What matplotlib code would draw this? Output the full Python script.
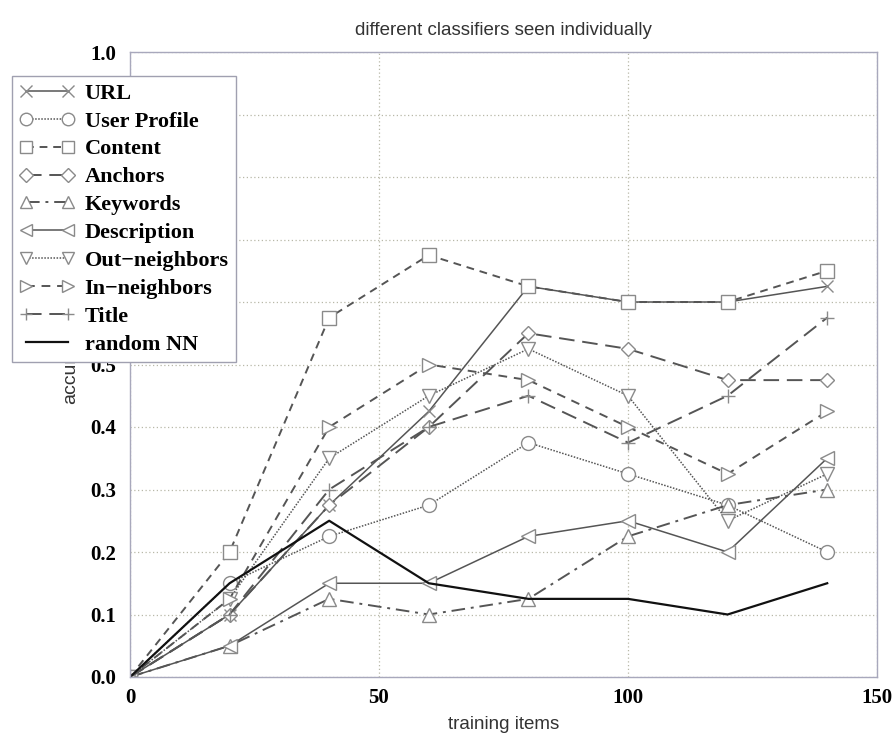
import matplotlib
matplotlib.use("Agg")
import matplotlib.pyplot as plt

x_items = [0, 20, 40, 60, 80, 100, 120, 140]

url = [0, 0.1, 0.275, 0.425, 0.625, 0.6, 0.6, 0.625]
user_profile = [0, 0.15, 0.225, 0.275, 0.375, 0.325, 0.275, 0.2]
content = [0, 0.2, 0.575, 0.675, 0.625, 0.6, 0.6, 0.65]
anchors = [0, 0.1, 0.275, 0.4, 0.55, 0.525, 0.475, 0.475]
keywords = [0, 0.05, 0.125, 0.1, 0.125, 0.225, 0.275, 0.3]
description = [0, 0.05, 0.15, 0.15, 0.225, 0.25, 0.2, 0.35]
out_neighbors = [0, 0.125, 0.35, 0.45, 0.525, 0.45, 0.25, 0.325]
in_neighbors = [0, 0.125, 0.4, 0.5, 0.475, 0.4, 0.325, 0.425]
title_vals = [0, 0.1, 0.3, 0.4, 0.45, 0.375, 0.45, 0.575]
random_nn = [0, 0.15, 0.25, 0.15, 0.125, 0.125, 0.1, 0.15]

labels = ["URL", "User Profile", "Content", "Anchors", "Keywords",
          "Description", "Out\u2212neighbors", "In\u2212neighbors", "Title", "random NN"]
x_ticks = [0, 50, 100, 150]
y_ticks = [0.0, 0.1, 0.2, 0.3, 0.4, 0.5, 0.6, 0.7, 0.8, 0.9, 1.0]

series = [url, user_profile, content, anchors, keywords, description,
          out_neighbors, in_neighbors, title_vals, random_nn]

line_col = "#555555"
mk_col = "#8a8a8a"
styles = [
    dict(ls="-", marker="x", lw=1.1, color=line_col, ms=9),
    dict(ls=(0, (1, 1)), marker="o", lw=1.1, color=line_col),
    dict(ls=(0, (4, 3)), marker="s", lw=1.4, color=line_col),
    dict(ls=(0, (8, 4)), marker="D", lw=1.4, color=line_col, ms=7.5),
    dict(ls=(0, (7, 3, 1.5, 3)), marker="^", lw=1.4, color=line_col),
    dict(ls="-", marker="<", lw=1.1, color=line_col),
    dict(ls=(0, (1, 1)), marker="v", lw=1.1, color=line_col),
    dict(ls=(0, (4.5, 3.5)), marker=">", lw=1.4, color=line_col),
    dict(ls=(0, (8, 4)), marker="+", lw=1.4, color=line_col),
    dict(ls="-", marker=None, lw=1.6, color="#111111"),
]

fig = plt.figure(figsize=(8.95, 7.36), dpi=100)
ax = fig.add_axes([130/895, 1-677/736, (877-130)/895, (677-52)/736])

handles = []
for vals, st, lab in zip(series, styles, labels):
    ms = st.pop("ms", 10)
    h, = ax.plot(x_items, vals, label=lab, markersize=ms,
                 markerfacecolor="white", markeredgecolor=mk_col,
                 markeredgewidth=1.0, **st)
    handles.append(h)

ax.set_xlim(0, 150)
ax.set_ylim(0, 1.0)
ax.set_xticks(x_ticks)
ax.set_yticks(y_ticks)
ax.set_yticklabels([f"{v:.1f}" for v in y_ticks])
ax.grid(True, ls=(0, (1, 2)), color="#b8b8a8", lw=0.9)
ax.set_axisbelow(True)
for s in ax.spines.values():
    s.set_color("#a8a8bc")
    s.set_linewidth(1.0)
ax.tick_params(length=0, pad=10)
for t in ax.get_xticklabels() + ax.get_yticklabels():
    t.set_fontfamily("Liberation Serif")
    t.set_fontweight("bold")
    t.set_fontsize(15)
ax.tick_params(axis="x", pad=8)

ax.set_title("different classifiers seen individually", fontfamily="Liberation Sans",
             fontsize=13.5, color="#333333", pad=12)
ax.set_xlabel("training items", fontfamily="Liberation Sans", fontsize=13.5,
              color="#333333", labelpad=6)
ax.set_ylabel("accuracy", fontfamily="Liberation Sans", fontsize=14,
              color="#333333", labelpad=8)

leg = fig.legend(handles=handles, loc="upper left",
                 bbox_to_anchor=(12/895, 1-76/736), bbox_transform=fig.transFigure,
                 borderaxespad=0, numpoints=2, handlelength=2.5, handletextpad=0.45,
                 labelspacing=0.33, borderpad=0.32, fancybox=False, framealpha=1,
                 edgecolor="#a0a0b0", markerscale=0.9,
                 prop=dict(family="Liberation Serif", weight="bold", size=16))
leg.get_frame().set_linewidth(1.0)

fig.savefig("out.png", dpi=100)
